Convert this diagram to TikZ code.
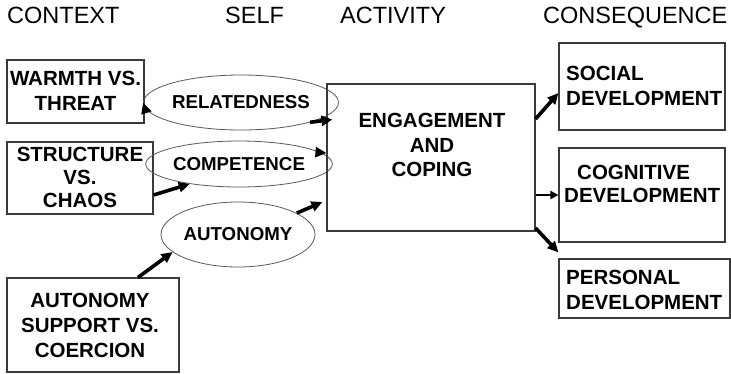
\documentclass[tikz,border=0pt]{standalone}
\usepackage{fontspec}
\setmainfont{Liberation Sans}
\usetikzlibrary{arrows.meta,shapes.geometric,calc}
\definecolor{edgegray}{HTML}{3A3A3A}
\definecolor{ovalgray}{HTML}{5A5A5A}
\begin{document}
\begin{tikzpicture}[x=1pt,y=-1pt,
  heading/.style={anchor=base west,inner sep=0pt,font=\fontsize{23.5}{28}\selectfont},
  rectbox/.style={draw=edgegray,line width=1.1pt,rectangle,inner sep=0pt},
  oval/.style={draw=ovalgray,line width=0.8pt,ellipse,inner sep=0pt,
    font=\fontsize{18.7}{22}\selectfont\bfseries},
  boxtext/.style={inner sep=0pt,align=center,anchor=north,
    font=\fontsize{20.5}{24.5}\selectfont\bfseries},
  lefttext/.style={inner sep=0pt,align=left,anchor=north west,
    font=\fontsize{20.5}{25}\selectfont\bfseries},
  thickarrow/.style={line width=3.6pt,-{Triangle[length=11pt,width=10pt]}},
  thinarrow/.style={line width=2.2pt,-{Triangle[length=8pt,width=8pt]}}]
\useasboundingbox (0,0) rectangle (731,373);
\fill[white] (0,0) rectangle (731,373);

% column headings
\node[heading] (hcontext) at (7,23.5) {CONTEXT};
\node[heading] (hself) at (225,23.5) {SELF};
\node[heading] (hactivity) at (340,23.5) {ACTIVITY};
\node[heading] (hconseq) at (543,23.5) {CONSEQUENCE};

% context boxes
\node[rectbox,minimum width=137pt,minimum height=63pt] (warm) at (75.5,91.5) {};
\node[boxtext] (warmtxt) at (75.5,71.3) {WARMTH VS.\\THREAT};
\node[rectbox,minimum width=146pt,minimum height=72pt] (struct) at (80,178) {};
\node[boxtext,font=\fontsize{20.5}{23}\selectfont\bfseries] (structtxt) at (80,147.3) {STRUCTURE\\VS.\\CHAOS};
\node[rectbox,minimum width=172pt,minimum height=94pt] (supp) at (93,325) {};
\node[boxtext,font=\fontsize{20.5}{25}\selectfont\bfseries] (supptxt) at (90,293.3) {AUTONOMY\\SUPPORT VS.\\COERCION};

% self ovals
\node[oval,minimum width=148pt,minimum height=55pt] (rel) at (241,102.5) {RELATEDNESS};
\node[oval,minimum width=146pt,minimum height=46pt] (comp) at (239,164) {COMPETENCE};
\node[oval,minimum width=154pt,minimum height=65pt] (aut) at (238,234.5) {AUTONOMY};

% activity box
\node[rectbox,minimum width=208pt,minimum height=147pt] (main) at (431,157.5) {};
\node[boxtext] (maintxt) at (432,113.3) {ENGAGEMENT\\AND\\COPING};

% consequence boxes
\node[rectbox,minimum width=166pt,minimum height=87pt] (soc) at (642,86.5) {};
\node[lefttext] (soctxt) at (566,65.8) {SOCIAL\\DEVELOPMENT};
\node[rectbox,minimum width=166pt,minimum height=94pt] (cog) at (642,195) {};
\node[lefttext,font=\fontsize{20.5}{23}\selectfont\bfseries] (cogtxt) at (564,165.3) {\hspace*{13pt}COGNITIVE\\DEVELOPMENT};
\node[rectbox,minimum width=171pt,minimum height=59pt] (pers) at (644.5,288.5) {};
\node[lefttext] (perstxt) at (566,270.3) {PERSONAL\\DEVELOPMENT};

% connectors
\draw[thickarrow] ([yshift=-15.5pt]warm.east) -- (rel.west);
\draw[thickarrow] ([yshift=-17pt]struct.east) -- (comp.202);
\draw[thickarrow] ([xshift=45pt]supp.north) -- (aut.195);
\draw[thickarrow] (rel.-16) -- ([xshift=6pt,yshift=38pt]main.west);
\draw[thickarrow] (comp.8) -- ([yshift=4.5pt]main.west);
\draw[thickarrow] (aut.20) -- ([xshift=-4pt,yshift=-44.5pt]main.west);
\draw[thickarrow] ([yshift=38.5pt]main.east) -- ([yshift=-6.5pt]soc.west);
\draw[thinarrow] ([yshift=-37.5pt]main.east) -- (cog.west);
\draw[thickarrow] ([yshift=-70.5pt]main.east) -- ([yshift=6pt]pers.north west);
\end{tikzpicture}
\end{document}
